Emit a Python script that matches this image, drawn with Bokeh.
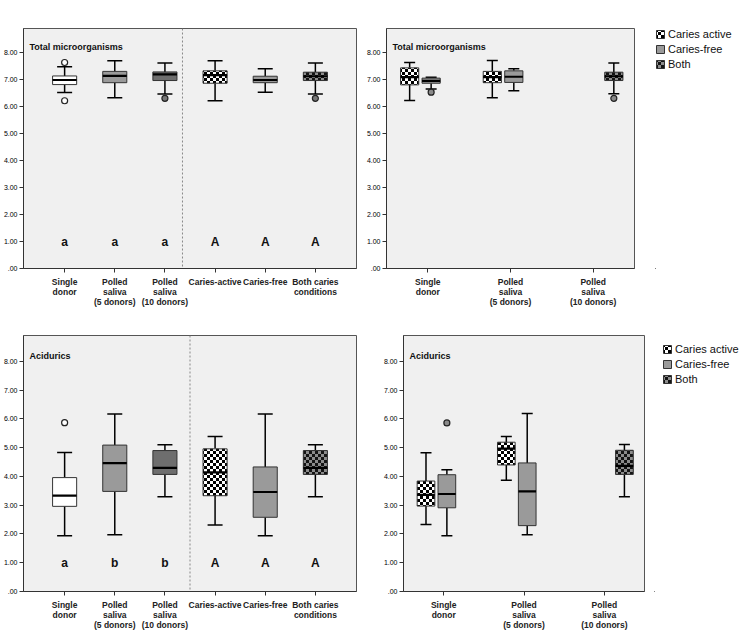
import zlib
import struct
import base64

from bokeh.plotting import figure
from bokeh.models import (ColumnDataSource, FactorRange, Range1d, FixedTicker,
                          PrintfTickFormatter, Span, Label, Legend, LegendItem,
                          ImageURLTexture)
from bokeh.transform import dodge
from bokeh.layouts import column, row
from bokeh.embed import file_html
from bokeh.resources import INLINE
from bokeh.core.properties import value

FONT = "Liberation Sans"

# ---------------- data ----------------
cats6 = ["Single\ndonor", "Polled\nsaliva\n(5 donors)", "Polled\nsaliva\n(10 donors)",
         "Caries-active", "Caries-free", "Both caries\nconditions"]
cats3 = ["Single\ndonor", "Polled\nsaliva\n(5 donors)", "Polled\nsaliva\n(10 donors)"]

# Total microorganisms, by group
tot_hi = [7.48, 7.70, 7.62, 7.70, 7.41, 7.62]
tot_q3 = [7.14, 7.31, 7.29, 7.33, 7.13, 7.28]
tot_med = [6.99, 7.14, 7.20, 7.17, 6.99, 7.13]
tot_q1 = [6.82, 6.89, 6.97, 6.87, 6.89, 6.97]
tot_lo = [6.53, 6.33, 6.47, 6.22, 6.54, 6.47]
tot_out_cat = ["Single\ndonor", "Single\ndonor", "Polled\nsaliva\n(10 donors)", "Both caries\nconditions"]
tot_out_val = [7.64, 6.22, 6.31, 6.31]
tot_out_fill = ["white", "white", "#777777", "#777777"]
tot_letters = ["a", "a", "a", "A", "A", "A"]

# Acidurics, by group
aci_hi = [4.83, 6.17, 5.10, 5.39, 6.17, 5.10]
aci_q3 = [3.96, 5.09, 4.90, 4.96, 4.33, 4.90]
aci_med = [3.33, 4.46, 4.30, 4.14, 3.46, 4.30]
aci_q1 = [2.96, 3.48, 4.07, 3.33, 2.58, 4.07]
aci_lo = [1.94, 1.97, 3.29, 2.31, 1.94, 3.29]
aci_out_cat = ["Single\ndonor"]
aci_out_val = [5.87]
aci_out_fill = ["white"]
aci_letters = ["a", "b", "b", "A", "A", "A"]
letter_y = [1.0] * 6

box_fill = ["white", "#9a9a9a", "#6e6e6e", "white", "#9a9a9a", "#6e6e6e"]
box_hatch = ["blank", "blank", "blank", "chk", "blank", "dchk"]

# Total microorganisms, clustered by caries condition
t_act_cat = cats3[:2]
t_act_hi = [7.64, 7.71]
t_act_q3 = [7.44, 7.31]
t_act_med = [7.10, 7.10]
t_act_q1 = [6.81, 6.89]
t_act_lo = [6.23, 6.33]
t_free_cat = cats3[:2]
t_free_hi = [7.09, 7.41]
t_free_q3 = [7.06, 7.33]
t_free_med = [6.96, 7.11]
t_free_q1 = [6.87, 6.90]
t_free_lo = [6.66, 6.59]
t_free_out_cat = ["Single\ndonor"]
t_free_out_val = [6.54]
t_both_cat = cats3[2:]
t_both_hi = [7.62]
t_both_q3 = [7.28]
t_both_med = [7.13]
t_both_q1 = [6.97]
t_both_lo = [6.48]
t_both_out_cat = ["Polled\nsaliva\n(10 donors)"]
t_both_out_val = [6.31]

# Acidurics, clustered by caries condition
a_act_cat = cats3[:2]
a_act_hi = [4.82, 5.39]
a_act_q3 = [3.84, 5.19]
a_act_med = [3.36, 4.97]
a_act_q1 = [2.97, 4.40]
a_act_lo = [2.33, 3.87]
a_free_cat = cats3[:2]
a_free_hi = [4.23, 6.19]
a_free_q3 = [4.06, 4.47]
a_free_med = [3.39, 3.48]
a_free_q1 = [2.91, 2.29]
a_free_lo = [1.94, 1.97]
a_free_out_cat = ["Single\ndonor"]
a_free_out_val = [5.86]
a_both_cat = cats3[2:]
a_both_hi = [5.11]
a_both_q3 = [4.91]
a_both_med = [4.37]
a_both_q1 = [4.07]
a_both_lo = [3.29]

legend_names = ["Caries active", "Caries-free", "Both"]
y_ticks = [0, 1, 2, 3, 4, 5, 6, 7, 8]


# ---------------- checker textures (built as tiny PNGs) ----------------
def checker_url(c1, c2, sq):
    n = sq * 2
    raw = b""
    for yy in range(n):
        raw += b"\x00"
        for xx in range(n):
            c = c1 if ((xx // sq) + (yy // sq)) % 2 == 0 else c2
            raw += bytes(c)

    def chunk(t, d):
        return (struct.pack(">I", len(d)) + t + d
                + struct.pack(">I", zlib.crc32(t + d) & 0xffffffff))
    png = (b"\x89PNG\r\n\x1a\n"
           + chunk(b"IHDR", struct.pack(">IIBBBBB", n, n, 8, 2, 0, 0, 0))
           + chunk(b"IDAT", zlib.compress(raw))
           + chunk(b"IEND", b""))
    return "data:image/png;base64," + base64.b64encode(png).decode()


HATCH_EXTRA = {
    "chk": ImageURLTexture(url=checker_url((0, 0, 0), (255, 255, 255), 3)),
    "dchk": ImageURLTexture(url=checker_url((20, 20, 20), (140, 140, 140), 3)),
}

STYLE = {
    "active": dict(fill="white", hatch="chk"),
    "free": dict(fill="#9a9a9a", hatch="blank"),
    "both": dict(fill="#6e6e6e", hatch="dchk"),
}


def make_fig(cats, width, height, bl, br, bt, bb, pad):
    p = figure(width=width, height=height,
               x_range=FactorRange(factors=cats, range_padding=pad,
                                   range_padding_units="absolute"),
               y_range=Range1d(0, 8.9),
               output_backend="svg", toolbar_location=None,
               min_border_left=bl, min_border_right=br,
               min_border_top=bt, min_border_bottom=bb)
    p.background_fill_color = "#f0f0f0"
    p.border_fill_color = "white"
    p.outline_line_color = "#555555"
    p.outline_line_width = 1
    p.grid.visible = False
    p.yaxis.ticker = FixedTicker(ticks=y_ticks)
    p.yaxis.formatter = PrintfTickFormatter(format="%.2f")
    p.yaxis.major_label_overrides = {0: ".00"}
    p.yaxis.major_label_text_font_size = "7px"
    p.yaxis.major_label_text_font = FONT
    p.yaxis.major_label_text_color = "#000000"
    p.yaxis.minor_tick_line_color = None
    p.yaxis.major_tick_in = 0
    p.yaxis.major_tick_out = 4
    p.yaxis.major_label_standoff = 2
    p.xaxis.major_label_text_font = FONT
    p.xaxis.major_label_text_font_style = "bold"
    p.xaxis.major_label_text_font_size = "8.5px"
    p.xaxis.major_label_text_line_height = 1.04
    p.xaxis.major_label_text_color = "#222222"
    p.xaxis.major_label_standoff = 4
    p.xaxis.axis_label_standoff = 0
    p.xaxis.major_tick_in = 0
    p.xaxis.major_tick_out = 4
    p.axis.axis_line_color = "#333333"
    p.axis.major_tick_line_color = "#333333"
    return p


def draw_box(p, src, off, w, cap):
    x = dodge("cat", off, range=p.x_range)
    xl = dodge("cat", off - w / 2, range=p.x_range)
    xr = dodge("cat", off + w / 2, range=p.x_range)
    p.segment(x0=x, y0="q3", x1=x, y1="hi", source=src, line_color="black", line_width=1.5)
    p.segment(x0=x, y0="q1", x1=x, y1="lo", source=src, line_color="black", line_width=1.5)
    p.scatter(x=x, y="hi", marker="dash", size=cap, source=src, line_color="black", line_width=1.5)
    p.scatter(x=x, y="lo", marker="dash", size=cap, source=src, line_color="black", line_width=1.5)
    r = p.vbar(x=x, bottom="q1", top="q3", width=w, source=src,
               fill_color="fill", hatch_pattern="hatch", hatch_extra=HATCH_EXTRA,
               line_color="#333333", line_width=1)
    p.segment(x0=xl, y0="med", x1=xr, y1="med", source=src, line_color="black", line_width=2.2)
    return r


def draw_out(p, cats, vals, fills, off=0.0):
    src = ColumnDataSource(dict(cat=cats, v=vals, f=fills))
    p.scatter(x=dodge("cat", off, range=p.x_range), y="v", source=src, size=6,
              marker="circle", fill_color="f", line_color="#222222", line_width=1.2)


def title(p, txt, y):
    p.add_layout(Label(x=6, y=y, x_units="screen", y_units="data", text=txt,
                       text_font=FONT, text_font_style="bold", text_font_size="9px",
                       text_baseline="middle", text_color="#111111"))


def group_panel(p, hi, q3, med, q1, lo, letters, out_cat, out_val, out_fill, span_loc):
    src = ColumnDataSource(dict(cat=cats6, hi=hi, q3=q3, med=med, q1=q1, lo=lo,
                                fill=box_fill, hatch=box_hatch,
                                letter=letters, ly=letter_y))
    draw_box(p, src, 0.0, 0.48, 15)
    draw_out(p, out_cat, out_val, out_fill)
    p.text(x="cat", y="ly", text="letter", source=src, text_align="center",
           text_baseline="middle", text_font=value(FONT), text_font_style="bold",
           text_font_size="12px", text_color="#111111")
    p.add_layout(Span(location=span_loc, dimension="height", line_color="#888888",
                      line_dash="2 2", line_width=1))


def cluster_panel(p, sets):
    offs = {"active": -0.22, "free": 0.04, "both": 0.25}
    for key, (cats, hi, q3, med, q1, lo, oc, ov) in sets.items():
        st = STYLE[key]
        n = len(cats)
        src = ColumnDataSource(dict(cat=cats, hi=hi, q3=q3, med=med, q1=q1, lo=lo,
                                    fill=[st["fill"]] * n, hatch=[st["hatch"]] * n))
        draw_box(p, src, offs[key], 0.22, 11)
        if oc:
            draw_out(p, oc, ov, ["#8a8a8a"] * len(oc), offs[key])


def legend_fig(width, height, left, top, margin):
    f = figure(width=width, height=height, x_range=Range1d(0, 1), y_range=Range1d(0, 1),
               output_backend="svg", toolbar_location=None,
               x_axis_type=None, y_axis_type=None,
               min_border_left=left, min_border_right=0,
               min_border_top=top, min_border_bottom=0)
    f.outline_line_color = None
    f.grid.visible = False
    f.background_fill_color = "white"
    f.border_fill_color = "white"
    items = []
    for key, name in zip(["active", "free", "both"], legend_names):
        st = STYLE[key]
        src = ColumnDataSource(dict(x=[-5.0], t=[-5.0], fill=[st["fill"]], hatch=[st["hatch"]]))
        r = f.vbar(x="x", top="t", bottom=-6.0, width=0.1, source=src, fill_color="fill",
                   hatch_pattern="hatch", hatch_extra=HATCH_EXTRA,
                   line_color="#333333", line_width=1)
        items.append(LegendItem(label=value(name), renderers=[r]))
    leg = Legend(items=items, location="top_left", margin=margin, padding=2,
                 spacing=3, glyph_width=10, glyph_height=10, label_height=10,
                 label_standoff=3, label_text_font=FONT, label_text_font_size="11px",
                 label_text_color="#111111", border_line_color=None,
                 background_fill_alpha=0)
    f.add_layout(leg, "center")
    return f


# ---------------- figures ----------------
p1 = make_fig(cats6, 360, 310, 20, 4, 0, 38, 0.32)
group_panel(p1, tot_hi, tot_q3, tot_med, tot_q1, tot_lo, tot_letters,
            tot_out_cat, tot_out_val, tot_out_fill, 2.85)
title(p1, "Total microorganisms", 8.2)

p2 = make_fig(cats3, 278, 310, 26, 4, 4, 38, 0.0)
cluster_panel(p2, {
    "active": (t_act_cat, t_act_hi, t_act_q3, t_act_med, t_act_q1, t_act_lo, [], []),
    "free": (t_free_cat, t_free_hi, t_free_q3, t_free_med, t_free_q1, t_free_lo,
             t_free_out_cat, t_free_out_val),
    "both": (t_both_cat, t_both_hi, t_both_q3, t_both_med, t_both_q1, t_both_lo,
             t_both_out_cat, t_both_out_val),
})
title(p2, "Total microorganisms", 8.2)
l2 = legend_fig(104, 310, 17, 28, 0)

p3 = make_fig(cats6, 360, 323, 20, 4, 17, 38, 0.32)
group_panel(p3, aci_hi, aci_q3, aci_med, aci_q1, aci_lo, aci_letters,
            aci_out_cat, aci_out_val, aci_out_fill, 3.0)
title(p3, "Acidurics", 8.2)

p4 = make_fig(cats3, 288, 323, 43, 4, 17, 38, 0.0)
cluster_panel(p4, {
    "active": (a_act_cat, a_act_hi, a_act_q3, a_act_med, a_act_q1, a_act_lo, [], []),
    "free": (a_free_cat, a_free_hi, a_free_q3, a_free_med, a_free_q1, a_free_lo,
             a_free_out_cat, a_free_out_val),
    "both": (a_both_cat, a_both_hi, a_both_q3, a_both_med, a_both_q1, a_both_lo, [], []),
})
title(p4, "Acidurics", 8.2)
l4 = legend_fig(94, 323, 6, 25, 8)

layout = column(row(p1, p2, l2), row(p3, p4, l4))
open("out.html", "w").write(file_html(layout, INLINE))
